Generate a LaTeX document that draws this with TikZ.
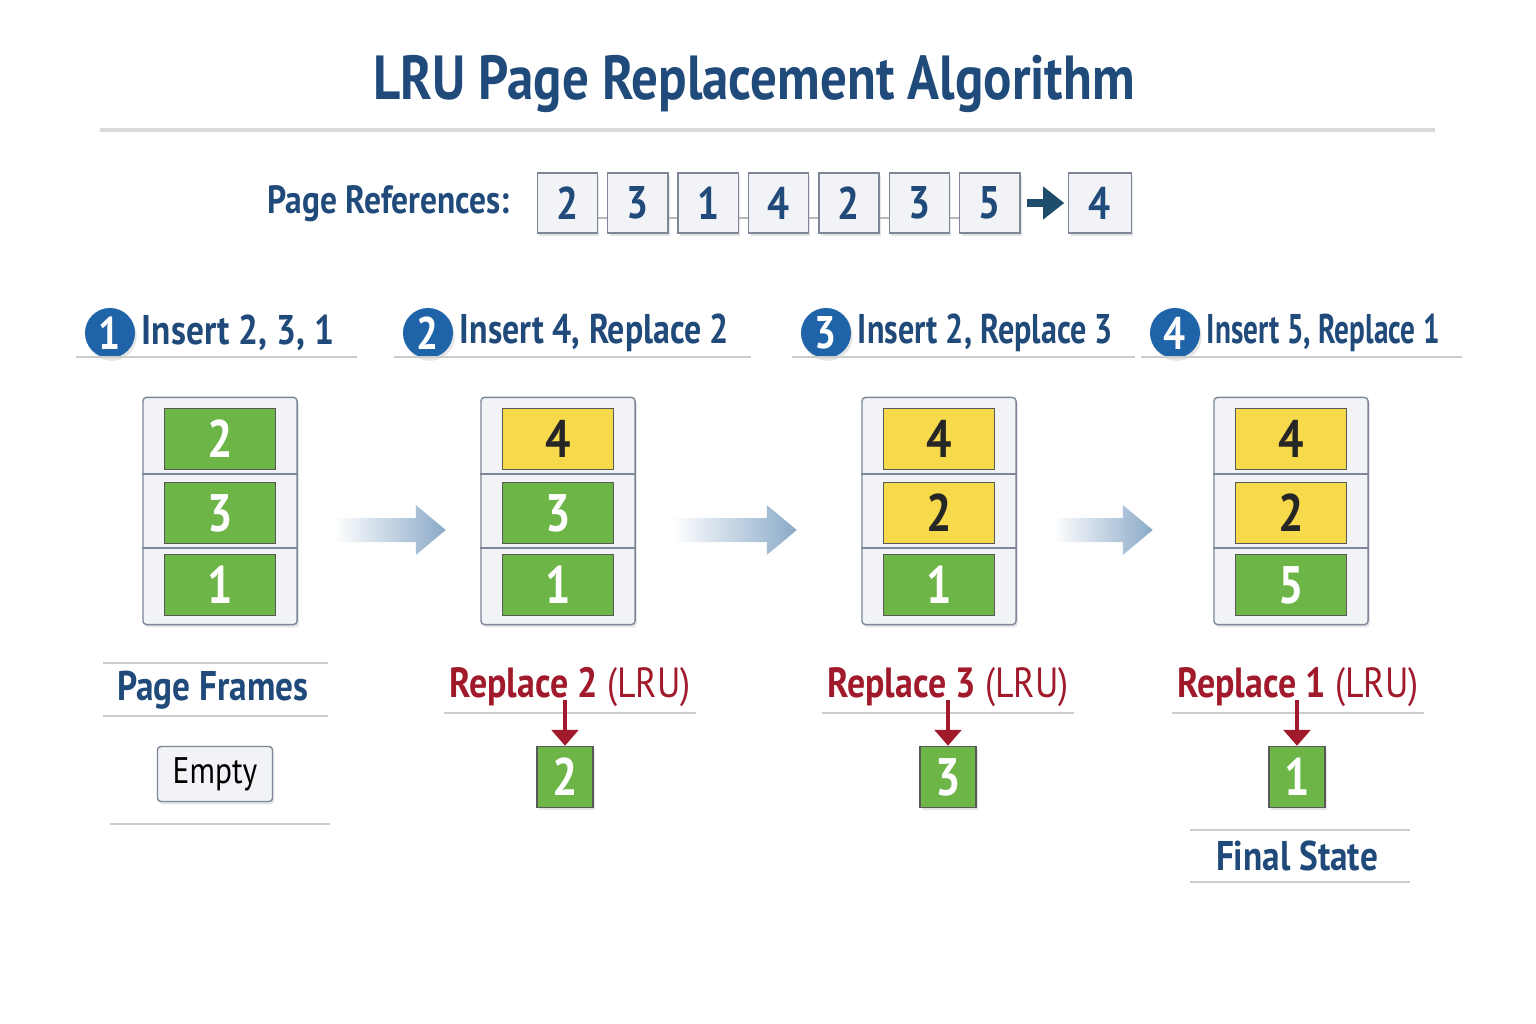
\documentclass[tikz,border=0pt]{standalone}
\usepackage{fontspec}
\usepackage{graphicx}
\setmainfont[FakeStretch=0.85]{PT Sans}
\usetikzlibrary{positioning,calc,shadows,arrows.meta}

\definecolor{titleblue}{HTML}{1F4A7A}
\definecolor{stepblue}{HTML}{1F63A8}
\definecolor{lrured}{HTML}{A11A2B}
\definecolor{pagegreen}{HTML}{6DB546}
\definecolor{pageyellow}{HTML}{F7D94C}
\definecolor{framegray}{HTML}{F1F3F6}
\definecolor{frameedge}{HTML}{7D8797}
\definecolor{arrowblue}{HTML}{8AAAC8}
\definecolor{refarrowcol}{HTML}{1E4D6B}

\begin{document}
\begin{tikzpicture}[x=0.01cm, y=-0.01cm,
    soft/.style={drop shadow={shadow xshift=0.5pt, shadow yshift=-0.8pt, opacity=0.2}},
    refbox/.style={draw=frameedge, fill=framegray, minimum width=0.6cm, minimum height=0.6cm, font=\fontsize{13}{13}\selectfont\bfseries, text=titleblue, soft},
    framebox/.style={draw=frameedge, fill=framegray, minimum width=1.54cm, minimum height=2.27cm, rounded corners=1pt, soft},
    slotg/.style={draw=black!65, fill=pagegreen, text=white, minimum width=1.11cm, minimum height=0.6cm, font=\fontsize{15}{15}\selectfont\bfseries},
    sloty/.style={slotg, fill=pageyellow, text=black!85},
    stepnum/.style={circle, fill=stepblue, text=white, minimum size=0.5cm, inner sep=0pt, font=\fontsize{13}{13}\selectfont\bfseries, soft},
    heading/.style={text=titleblue, inner sep=1pt, font=\fontsize{11.8}{11.8}\selectfont\bfseries},
    lrulabel/.style={text=lrured, inner sep=1pt, font=\fontsize{12}{12}\selectfont},
    rule/.style={gray!40, line width=0.8pt},
    lruarrow/.style={lrured, line width=1.4pt, -{Triangle[width=7.5pt,length=4.5pt]}}
  ]
    \useasboundingbox[fill=white] (0,0) rectangle (1536,1024);

    \node[text=titleblue, font=\fontsize{17.7}{17.7}\selectfont\bfseries] (title) at (754,84) {LRU Page Replacement Algorithm};
    \draw[gray!30, line width=1pt] (100,130) -- (1435,130);

    % reference string
    \node[heading, anchor=east, font=\fontsize{11.2}{11.2}\selectfont\bfseries] (reflbl) at (514,204) {Page References:};
    \foreach \v [count=\i] in {2,3,1,4,2,3,5}{
      \node[refbox] (r\i) at (497+70.4*\i, 203) {\v};
    }
    \node[refbox, minimum width=0.63cm] (r8) at (1100,203) {4};
    \foreach \i in {1,...,6}{
      \pgfmathtruncatemacro\j{\i+1}
      \draw[gray!55, thin] ([yshift=-0.15cm]r\i.east) -- ([yshift=-0.15cm]r\j.west);
    }
    \draw[refarrowcol, line width=2pt, -{Triangle[width=9pt,length=6pt]}, shorten <=1.7pt, shorten >=1pt] (r7) -- (r8);

    % steps
    \foreach \cx/\sx/\txt [count=\i] in {110/1/{Insert 2, 3, 1}, 428/0.96/{Insert 4, Replace 2}, 826/0.91/{Insert 2, Replace 3}, 1175/0.83/{Insert 5, Replace 1}}{
      \node[stepnum] (s\i) at (\cx,333) {\i};
      \node[heading, right=0.02cm of s\i] (h\i) {\scalebox{\sx}[1]{\txt}};
      \draw[rule] ($(s\i.west)+(-8,24)$) -- ($(h\i.east)+(18,24)$);
    }

    % page frames
    \foreach \cx/\a/\b/\c/\sa/\sb [count=\i] in {220/2/3/1/slotg/slotg, 558/4/3/1/sloty/slotg, 939/4/2/1/sloty/sloty, 1291/4/2/5/sloty/sloty}{
      \node[framebox] (f\i) at (\cx,511) {};
      \draw[frameedge] (f\i.west |- 0,474) -- (f\i.east |- 0,474);
      \draw[frameedge] (f\i.west |- 0,548) -- (f\i.east |- 0,548);
      \node[\sa] (top\i) at (\cx,439) {\a};
      \node[\sb] (mid\i) at (\cx,513) {\b};
      \node[slotg] (bot\i) at (\cx,585) {\c};
    }
    \foreach \i/\len in {1/112, 2/125, 3/100}{
      \shade[left color=white, right color=arrowblue]
        ($(f\i.east)+(36,7)$) -- ++(\len-30,0) -- ++(0,-13) -- ++(30,25) -- ++(-30,25) -- ++(0,-13) -- ++(30-\len,0) -- cycle;
    }

    % below the frames
    \draw[rule] (103,663) -- (328,663);
    \node[heading] (pf) at (213,690) {Page Frames};
    \draw[rule] (103,716) -- (328,716);
    \node[draw=frameedge, fill=framegray, minimum width=1.15cm, minimum height=0.55cm, inner sep=1pt, rounded corners=1pt, soft, font=\fontsize{10.5}{10.5}\selectfont] (empty) at (215,774) {Empty};
    \draw[rule] (110,824) -- (330,824);

    \foreach \cx/\lx/\v [count=\i from 2] in {565/570/2, 948/948/3, 1297/1298/1}{
      \node[lrulabel] (l\i) at (\lx,687) {\textbf{Replace \v} (LRU)};
      \draw[rule] ($(l\i.west)+(-1,26)$) -- ($(l\i.east)+(1,26)$);
      \node[slotg, minimum width=0.56cm, minimum height=0.54cm, soft] (out\i) at (\cx,777) {\v};
      \draw[lruarrow] ([yshift=3pt]out\i.north |- l\i.south) -- (out\i.north);
    }

    \draw[rule] (1190,830) -- (1410,830);
    \node[heading] (fs) at (1297,856) {Final State};
    \draw[rule] (1190,882) -- (1410,882);
  \end{tikzpicture}
\end{document}
